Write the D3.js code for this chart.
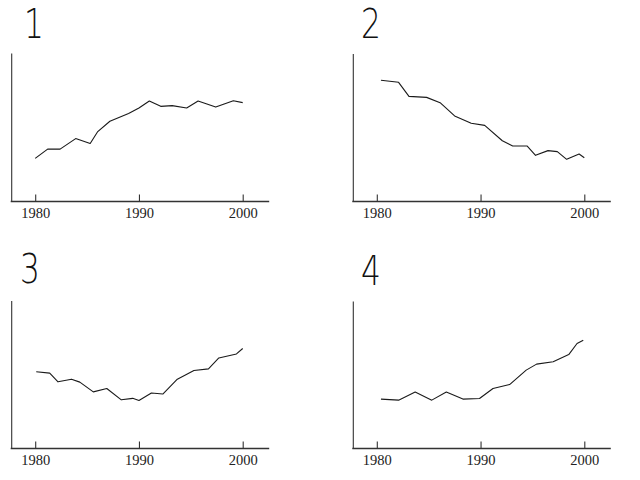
<!DOCTYPE html>
<html>
<head>
<meta charset="utf-8">
<script src="https://cdn.jsdelivr.net/npm/d3@7"></script>
<style>
  body { margin: 0; background: #fff; }
  svg { display: block; }
</style>
</head>
<body>
<div id="chart"></div>
<script>
// panel labels and tick labels
var panelNames = ["1", "2", "3", "4"];
var tickYears = [1980, 1990, 2000];
var tickLabels = ["1980", "1990", "2000"];

// series (years, values on a 0-100 scale)
var years1 = [1980.0, 1981.2, 1982.4, 1983.9, 1985.3, 1986.0, 1987.2, 1989.0, 1990.0, 1991.0, 1992.1, 1993.2, 1994.6, 1995.7, 1997.4, 1999.1, 2000.0];
var values1 = [29.1, 35.4, 35.4, 42.5, 39.2, 47.0, 54.2, 59.4, 63.2, 67.9, 64.3, 64.8, 63.2, 67.9, 63.8, 68.1, 66.8];

var years2 = [1980.4, 1982.1, 1983.1, 1984.8, 1986.1, 1987.5, 1989.1, 1990.4, 1992.1, 1993.1, 1994.5, 1995.3, 1996.5, 1997.4, 1998.3, 1999.5, 2000.0];
var values2 = [82.2, 80.8, 71.3, 70.6, 67.0, 58.0, 53.0, 51.6, 41.2, 37.6, 37.6, 31.3, 34.5, 33.8, 28.6, 32.2, 29.7];

var years3 = [1980.1, 1981.4, 1982.2, 1983.5, 1984.3, 1985.6, 1986.9, 1988.3, 1989.4, 1990.0, 1991.2, 1992.3, 1993.7, 1995.3, 1996.7, 1997.7, 1999.4, 2000.0];
var values3 = [52.0, 51.1, 45.2, 47.0, 45.0, 38.4, 40.7, 33.0, 34.0, 32.6, 37.6, 36.9, 47.0, 52.9, 54.0, 61.4, 64.1, 67.8];

var years4 = [1980.4, 1982.1, 1983.7, 1985.3, 1986.7, 1988.3, 1989.9, 1991.2, 1992.8, 1994.4, 1995.4, 1997.0, 1998.5, 1999.3, 1999.9];
var values4 = [33.6, 32.9, 38.4, 32.9, 38.4, 33.6, 34.0, 40.8, 43.5, 53.3, 57.4, 59.0, 63.9, 71.4, 73.7];

var allYears = [years1, years2, years3, years4];
var allValues = [values1, values2, values3, values4];

function init() {
    var w = 640;
    var h = 480;

    var svg = d3.select("#chart")
        .append("svg")
        .attr("width", w)
        .attr("height", h);

    // corner of each panel: x of the y-axis, y of the x-axis, top of y-axis, title position
    var layout = [
        {ox: 11.7, oy: 201.5, top: 53.5, tx: 24, ty: 38},
        {ox: 353.3, oy: 201.5, top: 54, tx: 361, ty: 38},
        {ox: 11.7, oy: 448.5, top: 301, tx: 20, ty: 283},
        {ox: 353.3, oy: 448.5, top: 301.5, tx: 361, ty: 285}
    ];

    layout.forEach(function (p, i) {
        var g = svg.append("g");

        var x = d3.scaleLinear()
            .domain([1980, 2000])
            .range([p.ox + 23.5, p.ox + 23.5 + 207.5]);

        var y = d3.scaleLinear()
            .domain([0, 100])
            .range([p.oy, p.top]);

        // plain axis lines
        g.append("line")
            .attr("x1", p.ox).attr("x2", p.ox)
            .attr("y1", p.top).attr("y2", p.oy)
            .attr("stroke", "#333").attr("stroke-width", 1.1);
        g.append("line")
            .attr("x1", p.ox - 1).attr("x2", p.ox + 257.5)
            .attr("y1", p.oy).attr("y2", p.oy)
            .attr("stroke", "#333").attr("stroke-width", 1.3);

        // ticks point up, labels below
        var axis = d3.axisBottom(x)
            .tickValues(tickYears)
            .tickFormat(function (d, k) { return tickLabels[k]; })
            .tickSizeInner(-7)
            .tickSizeOuter(0)
            .tickPadding(6.5);

        var ag = g.append("g")
            .attr("transform", "translate(0," + p.oy + ")")
            .call(axis);
        ag.select(".domain").remove();
        ag.selectAll(".tick line")
            .attr("stroke", "#333")
            .attr("stroke-width", 1.1);
        ag.selectAll(".tick text")
            .attr("fill", "#222")
            .style("font-family", "'Liberation Serif', 'DejaVu Serif', serif")
            .style("font-size", "14.5px");

        // the series line
        var pts = allYears[i].map(function (yr, k) { return [yr, allValues[i][k]]; });
        var line = d3.line()
            .x(function (d) { return x(d[0]); })
            .y(function (d) { return y(d[1]); });

        g.append("path")
            .datum(pts)
            .attr("d", line)
            .attr("fill", "none")
            .attr("stroke", "#1a1a1a")
            .attr("stroke-width", 1.1)
            .attr("stroke-linejoin", "round");

        // panel number
        g.append("text")
            .attr("transform", "translate(" + p.tx + "," + p.ty + ") scale(0.78,1)")
            .text(panelNames[i])
            .attr("fill", "#111")
            .style("font-family", "'DejaVu Sans', sans-serif")
            .style("font-weight", 200)
            .style("font-size", "40px");
    });
}

window.onload = init;
</script>
</body>
</html>
